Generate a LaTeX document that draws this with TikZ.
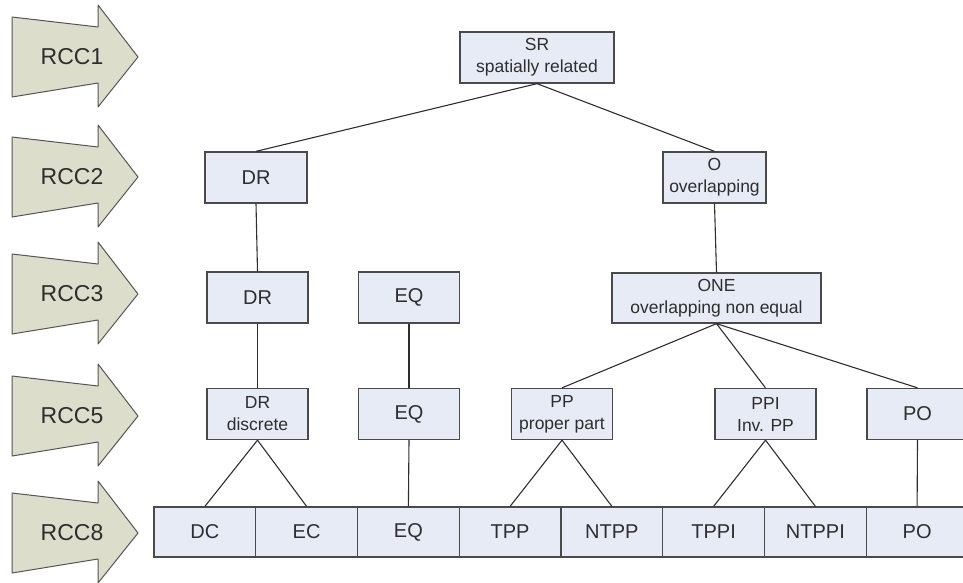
\documentclass[tikz,border=0pt]{standalone}
\usepackage{fontspec}
\setmainfont{Liberation Sans}

\definecolor{boxfill}{HTML}{E6EBF5}
\definecolor{boxline}{HTML}{4A4A4A}
\definecolor{arrowfill}{HTML}{DCDDCB}
\definecolor{arrowline}{HTML}{555555}
\definecolor{textgray}{HTML}{2E2E2E}

\tikzset{
	relbox/.style={draw=boxline, fill=boxfill, line width=1.3pt, inner sep=0pt,
		minimum width=101pt, minimum height=51pt, align=center, text=textgray,
		font=\fontsize{20}{22}\selectfont},
	twoline/.style={relbox, font=\fontsize{17.5}{22}\selectfont},
	link/.style={draw=textgray, line width=1.1pt},
	levelarrow/.style={fill=arrowfill, draw=arrowline, line width=1pt, line join=round},
	levellabel/.style={text=textgray, font=\fontsize{23}{26}\selectfont}
}

\begin{document}
\begin{tikzpicture}[x=1pt, y=-1pt]
		\useasboundingbox (0,0) rectangle (963,582);

		% Draw the level arrows on the left
		\foreach \t/\lab in {5/1, 125/2, 242/3, 364/5, 481/8} {
			\draw[levelarrow] (12,{\t+12}) -- (98,{\t+22}) -- (98,\t) -- (138,{\t+52})
				-- (98,{\t+102}) -- (98,{\t+78}) -- (12,{\t+92}) -- cycle;
			\node[levellabel] (rcc\lab) at (72,{\t+52}) {RCC\lab};
		}

		% RCC1
		\node[twoline, minimum width=154pt] (sr) at (537,57.5) {SR\\spatially related};

		% RCC2
		\node[relbox, minimum width=102pt] (dr2) at (256,177.5) {DR};
		\node[twoline, minimum width=103pt] (o2) at (714.5,177.5) {O\\overlapping};

		% RCC3
		\node[relbox] (dr3) at (257.5,297.5) {DR};
		\node[relbox] (eq3) at (409,297.5) {EQ};
		\node[twoline, minimum width=209pt, minimum height=50pt] (one) at (716.5,298) {ONE\\overlapping non equal};

		% RCC5
		\node[twoline] (drd) at (257.5,414) {DR\\discrete};
		\node[relbox] (eq5) at (409,414) {EQ};
		\node[twoline] (pp) at (562,414) {PP\\proper part};
		\node[twoline] (ppi) at (765.5,414) {PPI\\Inv. PP};
		\node[relbox] (po5) at (917.5,414) {PO};

		% RCC8, boxes side by side
		\node[relbox, minimum width=101.75pt, minimum height=50pt] (dc) at (204.9,532) {DC};
		\node[relbox, minimum width=101.75pt, minimum height=50pt] (ec) at (306.6,532) {EC};
		\node[relbox, minimum width=101.75pt, minimum height=50pt] (eq8) at (408.4,532) {EQ};
		\node[relbox, minimum width=101.75pt, minimum height=50pt] (tpp) at (510.1,532) {TPP};
		\node[relbox, minimum width=101.75pt, minimum height=50pt] (ntpp) at (611.9,532) {NTPP};
		\node[relbox, minimum width=101.75pt, minimum height=50pt] (tppi) at (713.6,532) {TPPI};
		\node[relbox, minimum width=101.75pt, minimum height=50pt] (ntppi) at (815.4,532) {NTPPI};
		\node[relbox, minimum width=101.75pt, minimum height=50pt] (po8) at (917.1,532) {PO};

		% Draw the links between the levels
		\draw[link] (sr.south) -- (dr2.north);
		\draw[link] (sr.south) -- (o2.north);
		\draw[link] (dr2.south) -- (dr3.north);
		\draw[link] (dr3.south) -- (drd.north);
		\draw[link] (eq3.south) -- (eq5.north);
		\draw[link] (o2.south) -- (one.north);
		\draw[link] (one.south) -- (pp.north);
		\draw[link] (one.south) -- (ppi.north);
		\draw[link] (one.south) -- (po5.north);
		\draw[link] (drd.south) -- (dc.north);
		\draw[link] (drd.south) -- (ec.north);
		\draw[link] (eq5.south) -- (eq8.north);
		\draw[link] (pp.south) -- (tpp.north);
		\draw[link] (pp.south) -- (ntpp.north);
		\draw[link] (ppi.south) -- (tppi.north);
		\draw[link] (ppi.south) -- (ntppi.north);
		\draw[link] (po5.south) -- (po8.north);

	\end{tikzpicture}
\end{document}
